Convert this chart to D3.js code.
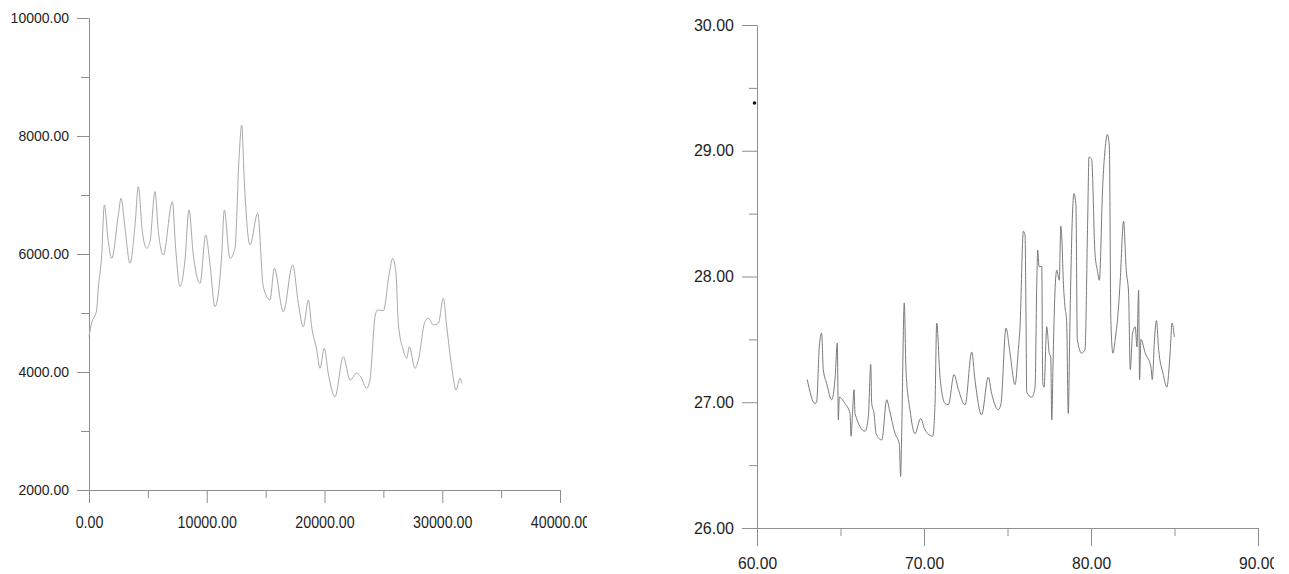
<!DOCTYPE html>
<html>
<head>
<meta charset="utf-8">
<script src="https://cdn.jsdelivr.net/npm/d3@7"></script>
<style>
  body { margin: 0; background: #fff; }
  svg { display: block; }
  .tick text { fill: #1e1e1e; font-family: "Liberation Sans", Arial, sans-serif; }
  .domain, .tick line { stroke: #8e8e8e; }
</style>
</head>
<body>
<script>
// left series
var leftX = [0, 250, 500, 650, 790, 1080, 1300, 1640, 1930, 2490, 2720, 3060, 3480, 3910, 4190,
  4530, 4900, 5180, 5600, 5890, 6310, 7080, 7360, 7730, 8150, 8490, 8860, 9430, 9910, 10280,
  10700, 11270, 11490, 11970, 12400, 12740, 12970, 13190, 13670, 14330, 14800, 15370, 15740, 16500, 17300,
  17780, 18200, 18630, 18910, 19340, 19620, 19980, 20320, 20890, 21600, 22170, 22730, 23070, 23580, 23860,
  24290, 24490, 25000, 25500, 25790, 26070, 26270, 26690, 26980, 27200, 27690, 27970, 28530, 28820, 29250,
  29670, 30090, 30380, 30800, 31170, 31510, 31650];
var leftY = [4600, 4850, 4950, 5051, 5419, 5983, 6830, 6208, 5927, 6661, 6944, 6435, 5842, 6492, 7141,
  6379, 6097, 6208, 7056, 6379, 5983, 6887, 6097, 5447, 5898, 6746, 5983, 5503, 6322, 5814,
  5107, 5983, 6746, 5927, 6097, 7622, 8186, 7227, 6153, 6689, 5447, 5220, 5757, 5022, 5814,
  5164, 4768, 5220, 4768, 4373, 4062, 4401, 3978, 3581, 4260, 3864, 3978, 3920, 3723, 3864,
  4937, 5051, 5040, 5672, 5927, 5672, 4825, 4373, 4232, 4429, 4062, 4203, 4853, 4910, 4797,
  4825, 5249, 4768, 4090, 3695, 3893, 3808];
var leftXTicks = [0, 10000, 20000, 30000, 40000];
var leftXMinor = [5000, 15000, 25000, 35000];
var leftYTicks = [2000, 4000, 6000, 8000, 10000];
var leftYMinor = [3000, 5000, 7000, 9000];

// right series
var rightX = [63.01, 63.47, 63.57, 63.73, 63.87, 63.97, 64.17, 64.47, 64.67, 64.81, 64.87, 64.93, 65.27, 65.57, 65.63,
  65.73, 65.81, 65.87, 66.47, 66.67, 66.81, 66.87, 67.01, 67.13, 67.47, 67.77, 67.93, 68.27, 68.52, 68.60,
  68.66, 68.82, 68.92, 69.16, 69.46, 69.80, 70.06, 70.52, 70.66, 70.76, 70.96, 71.26, 71.46, 71.80, 72.06,
  72.46, 72.86, 73.05, 73.45, 73.85, 74.05, 74.45, 74.61, 74.91, 75.15, 75.45, 75.65, 75.75,
  75.95, 76.05, 76.11, 76.15, 76.45, 76.65, 76.75, 76.81, 76.89, 77.05, 77.11, 77.19, 77.35, 77.50, 77.59,
  77.65, 77.74, 77.84, 77.95, 78.10, 78.19, 78.25, 78.34, 78.44, 78.54, 78.64, 78.74, 78.90, 78.98, 79.10,
  79.18, 79.44, 79.64, 79.80, 79.88, 80.04, 80.24, 80.38, 80.50, 80.70, 80.84, 80.98, 81.10, 81.19, 81.31,
  81.45, 81.65, 81.75, 81.95, 82.11, 82.25, 82.35, 82.49, 82.65, 82.75, 82.85, 82.91, 82.99, 83.25, 83.59,
  83.67, 83.81, 83.92, 84.05, 84.31, 84.55, 84.65, 84.75, 84.85, 84.99];
var rightY = [27.18, 26.99, 27.00, 27.44, 27.55, 27.26, 27.15, 27.02, 27.18, 27.47, 26.86, 27.04, 26.99, 26.91, 26.73,
  26.94, 27.10, 26.91, 26.77, 26.89, 27.30, 26.99, 26.91, 26.75, 26.70, 27.02, 26.94, 26.75, 26.67, 26.41,
  26.73, 27.79, 27.26, 26.94, 26.75, 26.87, 26.78, 26.73, 26.99, 27.63, 27.20, 26.99, 26.98, 27.22, 27.10,
  26.98, 27.40, 27.18, 26.90, 27.20, 27.07, 26.94, 26.99, 27.59, 27.39, 27.14, 27.42, 27.60,
  28.36, 28.33, 27.65, 27.08, 27.04, 27.12, 27.92, 28.21, 28.08, 28.08, 27.15, 27.12, 27.60, 27.39, 27.36,
  26.86, 27.39, 27.87, 28.05, 27.97, 28.40, 28.32, 27.97, 27.76, 27.65, 26.91, 27.65, 28.53, 28.66, 28.56,
  27.50, 27.39, 27.42, 28.44, 28.95, 28.93, 28.18, 28.05, 27.97, 28.72, 29.01, 29.13, 29.03, 27.65, 27.39,
  27.50, 27.76, 27.97, 28.44, 28.05, 27.87, 27.26, 27.55, 27.60, 27.44, 27.89, 27.18, 27.50, 27.39, 27.28,
  27.18, 27.52, 27.65, 27.42, 27.23, 27.12, 27.23, 27.42, 27.63, 27.52];
var rightXTicks = [60, 70, 80, 90];
var rightXMinor = [65, 75, 85];
var rightYTicks = [26, 27, 28, 29, 30];
var rightYMinor = [26.5, 27.5, 28.5, 29.5];
var rightSpeck = [59.85, 29.38]; // stray dot from the scan

var svg = d3.select("body").append("svg")
    .attr("width", 1289)
    .attr("height", 574);

var fmt = d3.format(".2f");

function squeeze(sel, k) {
  sel.each(function() {
    var w = this.getComputedTextLength();
    d3.select(this).attr("textLength", w * k).attr("lengthAdjust", "spacingAndGlyphs");
  });
}

function drawChart(o) {
  var g = svg.append("g");
  var x = d3.scaleLinear().domain(o.xDomain).range(o.xRange);
  var y = d3.scaleLinear().domain(o.yDomain).range(o.yRange);
  var x0 = o.xRange[0], y0 = o.yRange[0];

  // minor ticks
  g.append("g")
      .attr("transform", "translate(" + x0 + ",0)")
      .call(d3.axisLeft(y).tickValues(o.yMinor).tickSize(o.minorLen).tickFormat(""))
      .call(function(a) { a.select(".domain").remove(); });
  g.append("g")
      .attr("transform", "translate(0," + y0 + ")")
      .call(d3.axisBottom(x).tickValues(o.xMinor).tickSize(o.minorLen).tickFormat(""))
      .call(function(a) { a.select(".domain").remove(); });

  var ya = g.append("g")
      .attr("transform", "translate(" + x0 + ",0)")
      .call(d3.axisLeft(y).tickValues(o.yTicks).tickSize(o.yTickLen).tickSizeOuter(0)
        .tickPadding(8).tickFormat(fmt));
  ya.selectAll(".tick text").style("font-size", o.yFont + "px");

  var clipId = "clip" + o.id;
  svg.append("clipPath").attr("id", clipId)
    .append("rect").attr("x", 0).attr("y", 0).attr("width", o.clipRight).attr("height", 574);

  var xa = g.append("g")
      .attr("transform", "translate(0," + y0 + ")")
      .attr("clip-path", "url(#" + clipId + ")")
      .call(d3.axisBottom(x).tickValues(o.xTicks).tickSize(o.xTickLen).tickSizeOuter(0).tickFormat(fmt));
  xa.selectAll(".tick text")
      .style("font-size", o.xFont + "px")
      .attr("y", o.xLabelBase).attr("dy", 0)
      .call(squeeze, o.xSqueeze);

  var line = d3.line()
      .x(function(d) { return x(d[0]); })
      .y(function(d) { return y(d[1]); })
      .curve(d3.curveMonotoneX);

  g.append("path")
      .datum(d3.zip(o.xs, o.ys))
      .attr("fill", "none")
      .attr("stroke", o.lineColor)
      .attr("stroke-width", 1)
      .attr("d", line);

  return { x: x, y: y, g: g };
}

drawChart({
  id: "L", xDomain: [0, 40000], xRange: [89, 560], yDomain: [2000, 10000], yRange: [490, 18],
  xTicks: leftXTicks, xMinor: leftXMinor, yTicks: leftYTicks, yMinor: leftYMinor,
  yTickLen: 12, xTickLen: 13, minorLen: 8, yFont: 14, xFont: 16, xLabelBase: 38, xSqueeze: 0.89,
  clipRight: 587, xs: leftX, ys: leftY, lineColor: "#a8a8a8"
});

var right = drawChart({
  id: "R", xDomain: [60, 90], xRange: [757, 1258], yDomain: [26, 30], yRange: [528, 25],
  xTicks: rightXTicks, xMinor: rightXMinor, yTicks: rightYTicks, yMinor: rightYMinor,
  yTickLen: 15, xTickLen: 18, minorLen: 8, yFont: 16, xFont: 17, xLabelBase: 41, xSqueeze: 0.92,
  clipRight: 1274, xs: rightX, ys: rightY, lineColor: "#7a7a7a"
});

right.g.append("circle")
    .attr("cx", right.x(rightSpeck[0]))
    .attr("cy", right.y(rightSpeck[1]))
    .attr("r", 1.8)
    .attr("fill", "#111");
</script>
</body>
</html>
